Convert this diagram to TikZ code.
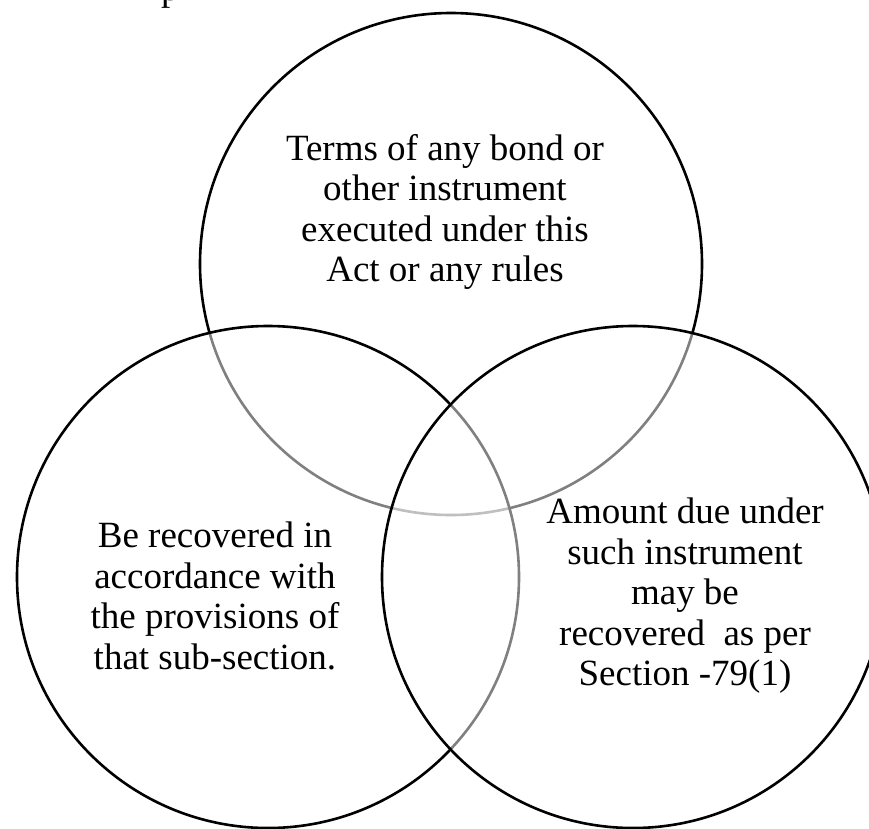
\documentclass[tikz,border=0pt]{standalone}
\usepackage{fontspec}
\setmainfont{Liberation Serif}
\usepackage{tikz}
\usetikzlibrary{positioning}
\tikzset{
	setCircle/.style={circle, draw=black, line width=2.6pt, fill=white, fill opacity=0.5, minimum size=502pt, inner sep=0pt},
	setText/.style={align=center, inner sep=0pt, font=\fontsize{37}{40.5}\selectfont}
}
\begin{document}
\begin{tikzpicture}[x=1pt,y=-1pt]
		\useasboundingbox (0,0) rectangle (869,828);

		% draw the three sets
		\node[setCircle](termsCircle) at (451,264){};
		\node[setCircle](recoverCircle) at (268,577){};
		\node[setCircle](amountCircle) at (633,577){};

		% draw set texts
		\node[setText](termsText) at (445,212){Terms of any bond or\\other instrument\\executed under this\\Act or any rules};
		\node[setText](recoverText) at (215,596){Be recovered in\\accordance with\\the provisions of\\that sub-section.};
		\node[setText](amountText) at (685,596){Amount due under\\such instrument\\may be\\recovered\ \ as per\\Section -79(1)};

		% cut-off title above
		\node[anchor=base west, inner sep=0pt, font=\fontsize{37}{40.5}\selectfont](titleText) at (161,0){p};
	\end{tikzpicture}
\end{document}
